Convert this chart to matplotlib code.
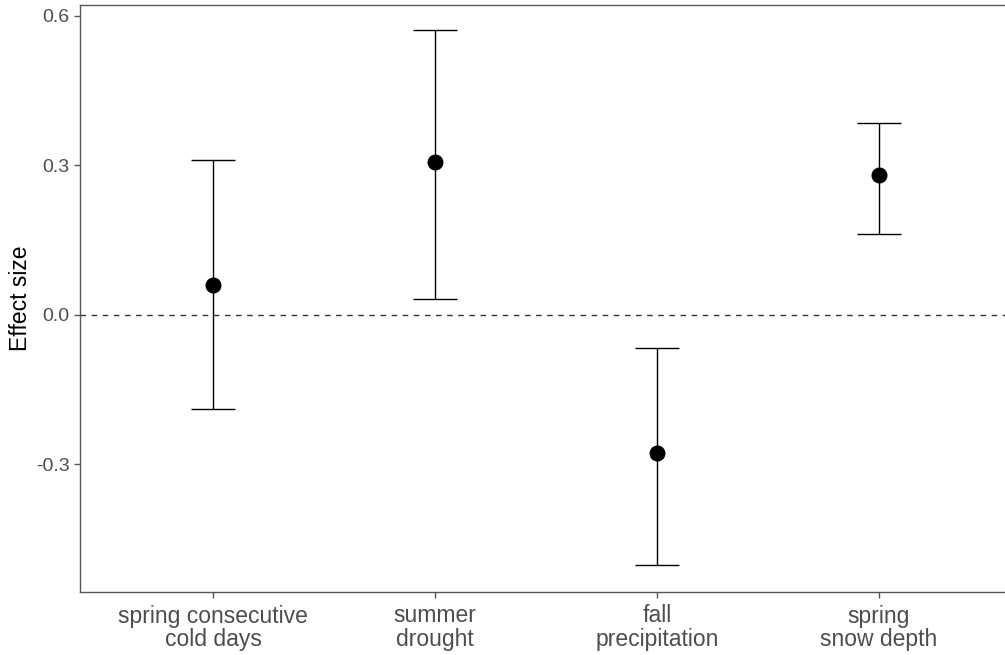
import matplotlib
matplotlib.use("Agg")
import matplotlib.pyplot as plt

plt.rcParams['font.family'] = ['Liberation Sans', 'DejaVu Sans']

categories = ["spring consecutive\ncold days", "summer\ndrought", "fall\nprecipitation", "spring\nsnow depth"]
estimate = [0.061, 0.306, -0.278, 0.280]
lower = [-0.188, 0.031, -0.501, 0.162]
upper = [0.310, 0.571, -0.067, 0.386]
yticks = [-0.3, 0.0, 0.3, 0.6]
ytick_labels = ["-0.3", "0.0", "0.3", "0.6"]

fig = plt.figure(figsize=(10.05, 6.55), dpi=100)
ax = fig.add_axes([80 / 1005, 63 / 655, 932 / 1005, 587 / 655])

x = list(range(len(categories)))
yerr = [[e - lo for e, lo in zip(estimate, lower)],
        [hi - e for e, hi in zip(estimate, upper)]]

ax.axhline(0, color='#333333', linestyle=(0, (4, 4)), linewidth=1.0, zorder=1)
ax.errorbar(x, estimate, yerr=yerr, fmt='none', ecolor='black',
            elinewidth=1.0, capsize=16, capthick=1.0, zorder=2)
ax.plot(x, estimate, 'o', color='black', markersize=10.5, zorder=3)

ax.set_xlim(-0.6, 3.6)
ax.set_ylim(-0.556, 0.622)
ax.set_xticks(x)
ax.set_xticklabels(categories, fontsize=16.5, color='#4D4D4D', linespacing=1.05)
ax.set_yticks(yticks)
ax.set_yticklabels(ytick_labels, fontsize=14, color='#4D4D4D')
ax.set_ylabel("Effect size", fontsize=16.5, color='black', labelpad=3)

for s in ax.spines.values():
    s.set_color('#555555')
    s.set_linewidth(1.0)
ax.spines['right'].set_visible(False)
ax.tick_params(axis='both', length=4, width=1.0, color='#555555')
ax.tick_params(axis='x', pad=5)
ax.tick_params(axis='y', pad=3.5)

fig.savefig("out.png", dpi=100)
